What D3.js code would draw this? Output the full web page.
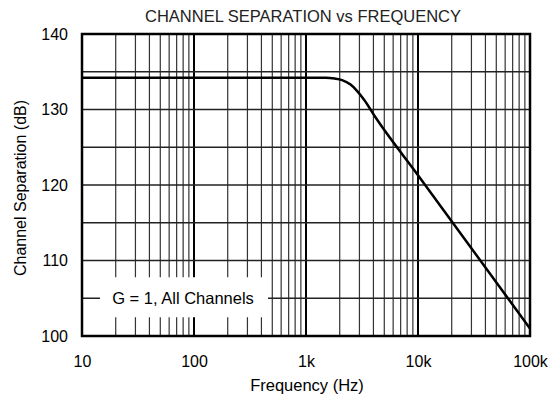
<!DOCTYPE html>
<html>
<head>
<meta charset="utf-8">
<script src="https://cdn.jsdelivr.net/npm/d3@7"></script>
<style>
  body { margin: 0; background: #fff; }
  text { font-family: "Liberation Sans", Arial, sans-serif; }
</style>
</head>
<body>
<div id="chart"></div>
<script>
// 数据：频率 / 分离度
const freqs = [10, 100, 1000, 1500, 1800, 2100, 2500, 2800, 3300, 4200, 10000, 100000];
const sepDb = [134.2, 134.2, 134.2, 134.2, 134.1, 133.9, 133.3, 132.6, 131.3, 128.9, 121.3, 101];
const xTicks = [10, 100, 1000, 10000, 100000];
const xTickLabels = ["10", "100", "1k", "10k", "100k"];
const yTicks = [100, 110, 120, 130, 140];

const width = 552, height = 401;
const margin = { top: 34, right: 22, bottom: 65, left: 82 };
const w = width - margin.left - margin.right;
const h = height - margin.top - margin.bottom;

const svg = d3.select("#chart")
  .append("svg")
  .attr("width", width)
  .attr("height", height);

const g = svg.append("g")
  .attr("transform", `translate(${margin.left},${margin.top})`);

const x = d3.scaleLog().domain([10, 100000]).range([0, w]);
const y = d3.scaleLinear().domain([100, 140]).range([h, 0]);

// 竖向网格：每十倍频程的 2..9
const minor = [];
for (let dec = 10; dec < 100000; dec *= 10) {
  for (let k = 2; k <= 9; k++) minor.push(dec * k);
}
g.selectAll(".vminor")
  .data(minor)
  .enter().append("line")
  .attr("x1", d => x(d)).attr("x2", d => x(d))
  .attr("y1", 0).attr("y2", h)
  .attr("stroke", "#333").attr("stroke-width", 1.2);

g.selectAll(".vmajor")
  .data(xTicks)
  .enter().append("line")
  .attr("x1", d => x(d)).attr("x2", d => x(d))
  .attr("y1", 0).attr("y2", h)
  .attr("stroke", "#000").attr("stroke-width", 2);

// 横向网格：每 5 dB
g.selectAll(".hgrid")
  .data(d3.range(100, 141, 5))
  .enter().append("line")
  .attr("x1", 0).attr("x2", w)
  .attr("y1", d => y(d)).attr("y2", d => y(d))
  .attr("stroke", "#222").attr("stroke-width", 1.3);

// 曲线
const line = d3.line()
  .x(d => x(d[0]))
  .y(d => y(d[1]))
  .curve(d3.curveMonotoneX);

g.append("path")
  .datum(freqs.map((f, i) => [f, sepDb[i]]))
  .attr("d", line)
  .attr("fill", "none")
  .attr("stroke", "#000")
  .attr("stroke-width", 2.5);

// 标注框
g.append("rect")
  .attr("x", 18).attr("y", y(105) - 21)
  .attr("width", 168).attr("height", 40)
  .attr("fill", "#fff");
g.append("text")
  .attr("x", 101).attr("y", y(105) + 6)
  .attr("text-anchor", "middle")
  .attr("font-size", 16.5)
  .text("G = 1, All Channels");

// 外框
g.append("rect")
  .attr("width", w).attr("height", h)
  .attr("fill", "none")
  .attr("stroke", "#000")
  .attr("stroke-width", 2.5);

// X轴
const xAxis = g.append("g")
  .attr("transform", `translate(0,${h})`)
  .call(d3.axisBottom(x).tickValues(xTicks).tickFormat((d, i) => xTickLabels[i]).tickSize(0).tickPadding(20));
xAxis.select(".domain").remove();
xAxis.selectAll("text").attr("font-size", 16).attr("fill", "#000")
  .attr("font-family", "Liberation Sans, Arial, sans-serif");

// Y轴
const yAxis = g.append("g")
  .call(d3.axisLeft(y).tickValues(yTicks).tickSize(0).tickPadding(14));
yAxis.select(".domain").remove();
yAxis.selectAll("text").attr("font-size", 16).attr("fill", "#000")
  .attr("font-family", "Liberation Sans, Arial, sans-serif");

// 标题
svg.append("text")
  .attr("x", 303).attr("y", 22)
  .attr("text-anchor", "middle")
  .attr("font-size", 16.5)
  .attr("fill", "#222")
  .text("CHANNEL SEPARATION vs FREQUENCY");

// Y轴标签
svg.append("text")
  .attr("text-anchor", "middle")
  .attr("transform", `translate(26, ${margin.top + h / 2 + 3}) rotate(-90)`)
  .attr("font-size", 16)
  .text("Channel Separation (dB)");

// X轴标签
svg.append("text")
  .attr("text-anchor", "middle")
  .attr("x", 307).attr("y", 391)
  .attr("font-size", 16.5)
  .text("Frequency (Hz)");
</script>
</body>
</html>
